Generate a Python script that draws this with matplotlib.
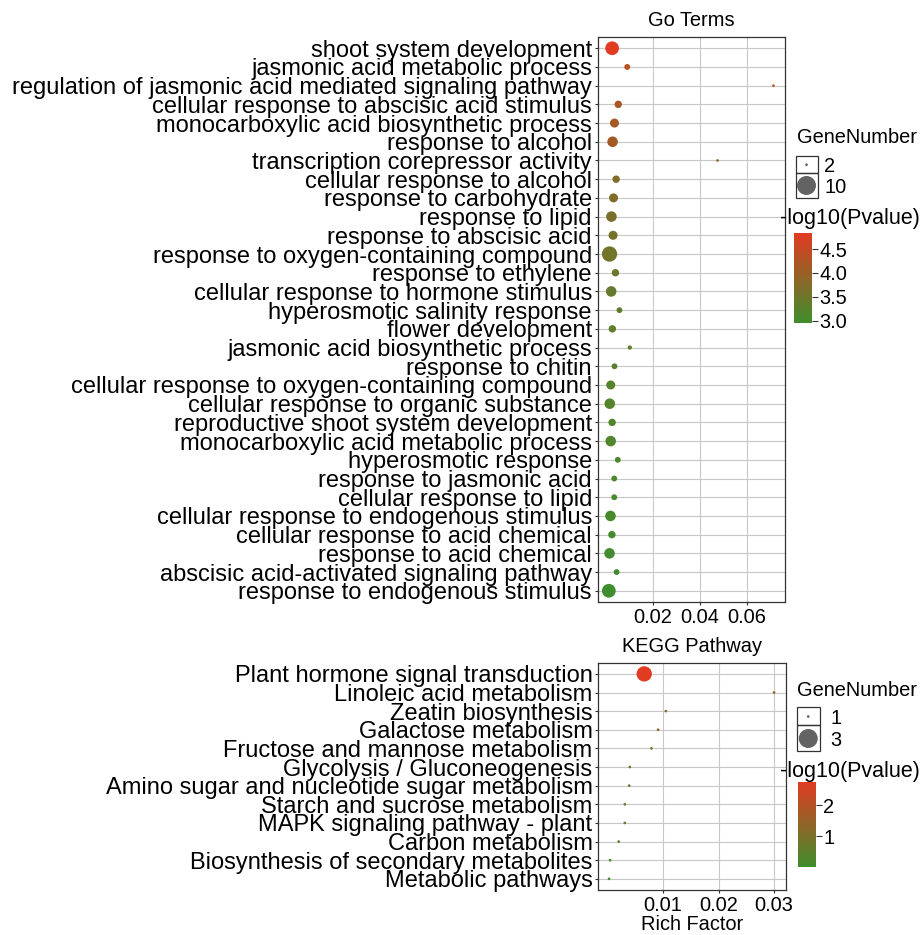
import numpy as np
import matplotlib
matplotlib.use('Agg')
import matplotlib.pyplot as plt
from matplotlib.colors import LinearSegmentedColormap, Normalize
from matplotlib.cm import ScalarMappable
from matplotlib.patches import Rectangle

plt.rcParams['font.family'] = ['Liberation Sans', 'DejaVu Sans']

# ---------------- data ----------------
go_terms = [
    "shoot system development",
    "jasmonic acid metabolic process",
    "regulation of jasmonic acid mediated signaling pathway",
    "cellular response to abscisic acid stimulus",
    "monocarboxylic acid biosynthetic process",
    "response to alcohol",
    "transcription corepressor activity",
    "cellular response to alcohol",
    "response to carbohydrate",
    "response to lipid",
    "response to abscisic acid",
    "response to oxygen-containing compound",
    "response to ethylene",
    "cellular response to hormone stimulus",
    "hyperosmotic salinity response",
    "flower development",
    "jasmonic acid biosynthetic process",
    "response to chitin",
    "cellular response to oxygen-containing compound",
    "cellular response to organic substance",
    "reproductive shoot system development",
    "monocarboxylic acid metabolic process",
    "hyperosmotic response",
    "response to jasmonic acid",
    "cellular response to lipid",
    "cellular response to endogenous stimulus",
    "cellular response to acid chemical",
    "response to acid chemical",
    "abscisic acid-activated signaling pathway",
    "response to endogenous stimulus",
]
go_rich = [0.0028, 0.0092, 0.0712, 0.0054, 0.0038, 0.0030, 0.0475, 0.0045,
           0.0034, 0.0025, 0.0032, 0.0017, 0.0042, 0.0024, 0.0059, 0.0029,
           0.0103, 0.0038, 0.0022, 0.0018, 0.0028, 0.0022, 0.0052, 0.0037,
           0.0037, 0.0021, 0.0027, 0.0017, 0.0047, 0.0014]
go_genes = [9, 4, 2, 5, 6, 7, 2, 5, 6, 7, 6, 10, 5, 7, 4, 5, 3, 4, 6, 7,
            5, 7, 4, 4, 4, 7, 5, 7, 4, 9]
go_logp = [4.83, 4.35, 4.30, 4.20, 4.15, 4.10, 3.85, 3.75, 3.70, 3.65,
           3.60, 3.55, 3.45, 3.40, 3.38, 3.35, 3.30, 3.28, 3.22, 3.20,
           3.18, 3.15, 3.12, 3.10, 3.08, 3.05, 3.03, 3.00, 2.98, 2.96]
go_xticks = [0.02, 0.04, 0.06]
go_size_breaks = [2, 10]
go_color_ticks = [3.0, 3.5, 4.0, 4.5]

kegg_terms = [
    "Plant hormone signal transduction",
    "Linoleic acid metabolism",
    "Zeatin biosynthesis",
    "Galactose metabolism",
    "Fructose and mannose metabolism",
    "Glycolysis / Gluconeogenesis",
    "Amino sugar and nucleotide sugar metabolism",
    "Starch and sucrose metabolism",
    "MAPK signaling pathway - plant",
    "Carbon metabolism",
    "Biosynthesis of secondary metabolites",
    "Metabolic pathways",
]
kegg_rich = [0.0066, 0.0300, 0.0105, 0.0091, 0.0079, 0.0040, 0.0039,
             0.0031, 0.0031, 0.0020, 0.00044, 0.00026]
kegg_genes = [3, 1, 1, 1, 1, 1, 1, 1, 1, 1, 1, 1]
kegg_logp = [2.76, 1.55, 1.25, 1.12, 1.02, 0.72, 0.70, 0.60, 0.60, 0.45,
             0.05, 0.0]
kegg_xticks = [0.01, 0.02, 0.03]
kegg_size_breaks = [1, 3]
kegg_color_ticks = [1, 2]

# ---------------- styling helpers ----------------
W, H = 924, 935
DPI = 100
LOW, HIGH = "#3F8E2D", "#E13B22"
cmap = LinearSegmentedColormap.from_list("pval", [LOW, HIGH])


def px_rect(l, t, r, b):
    return [l / W, 1 - b / H, (r - l) / W, (b - t) / H]


def fy(y):
    return 1 - y / H


def px2pt(d):
    return d * 72 / DPI


def size_area(g, gmin, gmax, dmin=2.7, dmax=15.3):
    g = np.asarray(g, float)
    d = dmin + (dmax - dmin) * (g - gmin) / (gmax - gmin)
    return px2pt(d) ** 2


FS = 14.4
FS_Y = 17
DARK = "#333333"

fig = plt.figure(figsize=(W / DPI, H / DPI), dpi=DPI)


def panel(rect, terms, rich, genes, logp, xticks, xlim, title, title_base):
    ax = fig.add_axes(rect)
    n = len(terms)
    y = np.arange(n)
    norm = Normalize(vmin=min(logp), vmax=max(logp))
    ax.scatter(rich, y, s=size_area(genes, min(genes), max(genes)),
               c=logp, cmap=cmap, norm=norm, linewidths=0, zorder=3)
    ax.set_ylim(n - 1 + 0.6, -0.6)
    ax.set_xlim(*xlim)
    ax.set_yticks(y)
    ax.set_yticklabels(terms, fontsize=FS_Y, color='black')
    ax.set_xticks(xticks)
    ax.set_xticklabels([f"{v:.2f}" for v in xticks], fontsize=FS, color='black')
    ax.grid(True, color='#c8c8c8', lw=0.8)
    ax.set_axisbelow(True)
    for s in ax.spines.values():
        s.set_color(DARK)
        s.set_linewidth(0.9)
    ax.tick_params(axis='both', length=2.5, width=0.8, color=DARK, pad=1.5)
    fig.text((rect[0] + rect[2] / 2), fy(title_base), title, fontsize=FS,
             ha='center', va='baseline', zorder=10)
    return ax, norm


def size_legend(box_l, box_r, tops, breaks, gmin, gmax, cy, label_x, title_base, title_x):
    fig.text(title_x / W, fy(title_base), "GeneNumber", fontsize=FS, ha='left',
             va='baseline', zorder=10)
    lax = fig.add_axes(px_rect(box_l, tops[0], box_r, tops[-1]))
    lax.set_xlim(box_l, box_r)
    lax.set_ylim(tops[-1], tops[0])
    lax.axis('off')
    for i in range(len(breaks)):
        lax.add_patch(Rectangle((box_l + 0.5, tops[i]), box_r - box_l - 1, tops[i + 1] - tops[i],
                                fill=False, ec=DARK, lw=0.9, clip_on=False))
    cx = (box_l + box_r) / 2
    lax.scatter([cx] * len(breaks), cy, s=size_area(breaks, gmin, gmax, 2.7, 19.0),
                color='#636363', linewidths=0, clip_on=False)
    for b, c in zip(breaks, cy):
        fig.text(label_x / W, fy(c + 0.358 * FS / 0.72), str(b), fontsize=FS,
                 ha='left', va='baseline', zorder=10)


def color_legend(norm, rect, ticks, fmt, title_base, title_x):
    fig.text(title_x / W, fy(title_base), "-log10(Pvalue)", fontsize=15.5, ha='left',
             va='baseline', zorder=10)
    cax = fig.add_axes(rect)
    cb = fig.colorbar(ScalarMappable(norm=norm, cmap=cmap), cax=cax)
    cb.outline.set_visible(False)
    cb.set_ticks(ticks)
    cb.set_ticklabels([fmt(t) for t in ticks])
    cax.tick_params(length=4, width=0.8, color=DARK, labelsize=FS, pad=1.5)


# ---------------- top panel ----------------
ax1, norm1 = panel(px_rect(597.5, 37, 785, 602), go_terms, go_rich, go_genes, go_logp,
                   go_xticks, (-0.0034, 0.0761), "Go Terms", 26.5)
size_legend(795, 818, [156, 173.3, 197.7], go_size_breaks, min(go_genes), max(go_genes),
            [164.7, 185.5], 824, 143.2, 796.7)
color_legend(norm1, px_rect(794, 233.3, 812, 322.7), go_color_ticks,
             lambda t: f"{t:.1f}", 223.8, 780)

# ---------------- bottom panel ----------------
ax2, norm2 = panel(px_rect(598, 662.7, 785.7, 890), kegg_terms, kegg_rich, kegg_genes,
                   kegg_logp, kegg_xticks, (-0.00173, 0.0321), "KEGG Pathway", 652.3)
fig.text((598 + 785.7) / 2 / W, fy(930.5), "Rich Factor", fontsize=FS, ha='center',
         va='baseline', zorder=10)
size_legend(796.5, 820, [706.7, 725, 751], kegg_size_breaks, min(kegg_genes), max(kegg_genes),
            [716.5, 738.5], 830, 695.5, 796.7)
color_legend(norm2, px_rect(798.3, 781.7, 815.7, 867.3), kegg_color_ticks,
             lambda t: f"{t:d}", 776.5, 780)

fig.savefig("out.png", dpi=DPI)
